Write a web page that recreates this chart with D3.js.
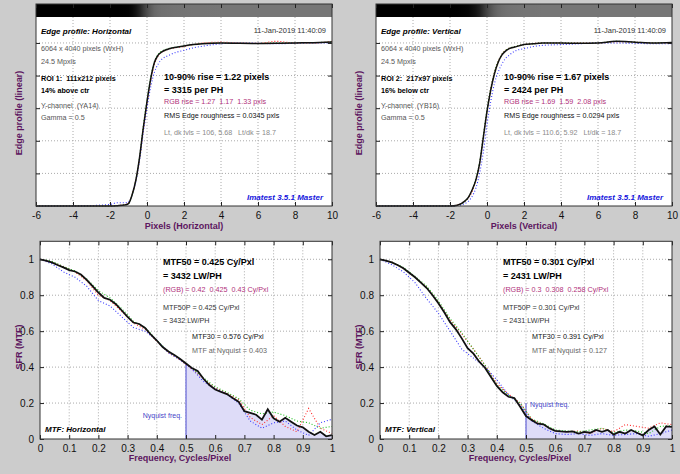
<!DOCTYPE html>
<html>
<head>
<meta charset="utf-8">
<script src="https://cdn.jsdelivr.net/npm/d3@7"></script>
<style>
body{margin:0;background:#cccccc;}
svg{display:block;font-family:"Liberation Sans",Arial,sans-serif;}
text{white-space:pre;}
</style>
</head>
<body>
<script>
// edge profile, pixels from edge
var edgeX = [-6,-4,-2,-1.6,-1.2,-1,-0.8,-0.6,-0.4,-0.2,0,0.2,0.4,0.6,0.8,1,1.2,1.5,2,2.5,3,4,5,6,7,8,9,10];
var edgeHorK = [0,0,0,0.002,0.006,0.015,0.07,0.16,0.3,0.48,0.64,0.78,0.88,0.925,0.945,0.957,0.965,0.972,0.982,0.99,0.995,1.0,0.998,0.997,0.998,1.0,1.002,1.006];
var edgeHorR = [0,0,0,0.003,0.008,0.018,0.07,0.16,0.29,0.47,0.63,0.77,0.87,0.92,0.945,0.955,0.963,0.97,0.978,0.99,1.0,1.005,1.0,0.998,1.01,1.0,1.0,1.01];
var edgeHorG = [0,0,0,0.002,0.006,0.014,0.068,0.16,0.3,0.49,0.65,0.79,0.885,0.93,0.95,0.96,0.967,0.973,0.982,0.99,0.997,1.0,0.998,0.997,1.0,1.0,1.002,1.006];
var edgeHorB = [0,0,0.01,0.02,0.02,0.025,0.07,0.15,0.28,0.45,0.6,0.73,0.82,0.87,0.9,0.915,0.925,0.94,0.955,0.97,0.98,0.995,1.0,0.998,0.995,0.998,1.0,1.0];
var edgeVerK = [0,0,0,0.005,0.03,0.055,0.1,0.16,0.26,0.42,0.58,0.71,0.81,0.88,0.925,0.95,0.965,0.975,0.99,0.995,1.0,1.0,0.998,1.0,1.01,1.005,1.0,1.003];
var edgeVerR = [0,0,0,0.006,0.03,0.05,0.09,0.16,0.26,0.42,0.58,0.72,0.82,0.885,0.93,0.955,0.968,0.978,0.99,0.997,1.0,1.0,1.0,1.0,1.008,1.005,1.0,1.0];
var edgeVerG = [0,0,0,0.004,0.028,0.055,0.1,0.17,0.27,0.43,0.59,0.72,0.82,0.885,0.93,0.955,0.968,0.978,0.99,0.995,1.0,1.0,0.998,1.0,1.01,1.005,1.0,1.003];
var edgeVerB = [0,0,0,0.003,0.015,0.03,0.06,0.11,0.2,0.33,0.5,0.64,0.75,0.82,0.87,0.905,0.925,0.95,0.965,0.978,0.985,0.99,0.995,1.0,1.0,0.998,0.995,0.995];

// MTF, black curve sampled every 0.02, colour channels every 0.04
var freqK = [0,0.02,0.04,0.06,0.08,0.1,0.12,0.14,0.16,0.18,0.2,0.22,0.24,0.26,0.28,0.3,0.32,0.34,0.36,0.38,0.4,0.42,0.44,0.46,0.48,0.5,0.52,0.54,0.56,0.58,0.6,0.62,0.64,0.66,0.68,0.7,0.72,0.74,0.76,0.78,0.8,0.82,0.84,0.86,0.88,0.9,0.92,0.94,0.96,0.98,1];
var freqC = [0,0.04,0.08,0.12,0.16,0.2,0.24,0.28,0.32,0.36,0.4,0.44,0.48,0.52,0.56,0.6,0.64,0.68,0.72,0.76,0.8,0.84,0.88,0.92,0.96,1];
var mtfHorK = [1,0.993,0.983,0.968,0.955,0.94,0.932,0.915,0.885,0.85,0.815,0.785,0.775,0.75,0.715,0.68,0.648,0.64,0.618,0.58,0.548,0.512,0.487,0.468,0.445,0.42,0.395,0.378,0.335,0.3,0.275,0.262,0.25,0.228,0.208,0.155,0.145,0.135,0.108,0.165,0.115,0.096,0.118,0.096,0.075,0.065,0.04,0.022,0.04,0.015,0.022];
var mtfHorR = [1,0.985,0.96,0.93,0.88,0.8,0.77,0.71,0.645,0.61,0.545,0.48,0.44,0.39,0.335,0.285,0.255,0.22,0.12,0.08,0.13,0.07,0.04,0.17,0.06,0.03];
var mtfHorG = [1,0.99,0.96,0.935,0.89,0.825,0.785,0.725,0.655,0.62,0.55,0.485,0.445,0.395,0.34,0.29,0.26,0.225,0.16,0.14,0.15,0.13,0.1,0.09,0.06,0.07];
var mtfHorB = [1,0.975,0.93,0.9,0.85,0.77,0.74,0.68,0.62,0.6,0.55,0.48,0.44,0.39,0.32,0.28,0.25,0.2,0.1,0.06,0.09,0.1,0.05,0.02,0.09,0.11];
var mtfVerK = [1,0.993,0.983,0.968,0.95,0.925,0.9,0.87,0.84,0.8,0.755,0.705,0.65,0.61,0.56,0.505,0.475,0.43,0.395,0.345,0.295,0.26,0.235,0.228,0.18,0.128,0.105,0.085,0.082,0.06,0.045,0.042,0.04,0.042,0.03,0.04,0.035,0.05,0.04,0.05,0.025,0.04,0.03,0.05,0.035,0.02,0.05,0.07,0.025,0.07,0.068];
var mtfVerR = [1,0.985,0.95,0.9,0.845,0.76,0.665,0.585,0.5,0.41,0.31,0.25,0.2,0.11,0.08,0.045,0.04,0.045,0.03,0.06,0.04,0.08,0.07,0.06,0.09,0.08];
var mtfVerG = [1,0.985,0.955,0.905,0.85,0.77,0.67,0.59,0.5,0.41,0.3,0.245,0.2,0.11,0.085,0.05,0.045,0.04,0.05,0.06,0.035,0.05,0.045,0.03,0.07,0.075];
var mtfVerB = [1,0.97,0.93,0.87,0.78,0.7,0.6,0.5,0.45,0.4,0.33,0.245,0.19,0.1,0.06,0.03,0.025,0.03,0.02,0.03,0.02,0.025,0.03,0.015,0.03,0.05];

var edgeTicksX = [-6,-4,-2,0,2,4,6,8,10];
var edgeTicksY = [0.2,0.4,0.6,0.8,1];
var mtfTicksX = [0,0.1,0.2,0.3,0.4,0.5,0.6,0.7,0.8,0.9,1];
var mtfTicksY = [0,0.2,0.4,0.6,0.8,1];

var labCol = "#5c1660";
var magenta = "#b0307a";

var svg = d3.select("body").append("svg")
    .attr("width", 680)
    .attr("height", 474);
svg.append("rect").attr("width", 680).attr("height", 474).attr("fill", "#cccccc");
var defs = svg.append("defs");

function txt(g, x, y, s, size, opt){
    opt = opt || {};
    return g.append("text")
        .attr("x", x).attr("y", y)
        .attr("xml:space", "preserve")
        .attr("font-size", size)
        .attr("font-weight", opt.bold ? "bold" : "normal")
        .attr("font-style", opt.italic ? "italic" : "normal")
        .attr("fill", opt.fill || "#000")
        .attr("text-anchor", opt.anchor || "start")
        .text(s);
}

function pairs(xs, ys){
    return xs.map(function(d, i){ return [d, ys[i]]; });
}

function axes(g, x, y, xt, yt, showY, fmt){
    var x0 = x.range()[0], x1 = x.range()[1];
    var y0 = y.range()[0], y1 = y.range()[1];
    g.append("g").attr("transform", "translate(0," + y0 + ")")
        .call(d3.axisBottom(x).tickValues(xt).tickSize(-4).tickPadding(6).tickFormat(fmt));
    g.append("g").attr("transform", "translate(0," + y1 + ")")
        .call(d3.axisTop(x).tickValues(xt).tickSize(-4).tickFormat(""));
    g.append("g").attr("transform", "translate(" + x0 + ",0)")
        .call(d3.axisLeft(y).tickValues(yt).tickSize(-4).tickPadding(6).tickFormat(showY ? fmt : ""));
    g.append("g").attr("transform", "translate(" + x1 + ",0)")
        .call(d3.axisRight(y).tickValues(yt).tickSize(-4).tickFormat(""));
    g.selectAll(".domain").remove();
    g.selectAll(".tick line").attr("stroke", "#222");
    g.selectAll(".tick text").attr("font-size", 10).attr("fill", "#111")
        .attr("font-family", "'Liberation Sans',Arial,sans-serif");
    g.append("rect").attr("x", x0).attr("y", y1).attr("width", x1 - x0).attr("height", y0 - y1)
        .attr("fill", "none").attr("stroke", "#333").attr("stroke-width", 1);
}

function grid(g, x, y, xt, yt, top){
    g.selectAll(null).data(xt.filter(function(d){ return d > x.domain()[0] && d < x.domain()[1]; }))
        .enter().append("line")
        .attr("x1", function(d){ return x(d); }).attr("x2", function(d){ return x(d); })
        .attr("y1", top).attr("y2", y.range()[0])
        .attr("stroke", "#aaa").attr("stroke-dasharray", "1,2");
    g.selectAll(null).data(yt.filter(function(d){ return d > 0; }))
        .enter().append("line")
        .attr("x1", x.range()[0]).attr("x2", x.range()[1])
        .attr("y1", function(d){ return y(d); }).attr("y2", function(d){ return y(d); })
        .attr("stroke", "#aaa").attr("stroke-dasharray", "1,2");
}

function curves(g, x, y, xsK, k, xsC, r, gg, b, curve, w){
    var line = d3.line().x(function(d){ return x(d[0]); }).y(function(d){ return y(d[1]); }).curve(curve);
    [[r, "#ff2a2a"], [gg, "#1fbf1f"], [b, "#3a3aff"]].forEach(function(s){
        g.append("path").datum(pairs(xsC, s[0])).attr("d", line)
            .attr("fill", "none").attr("stroke", s[1]).attr("stroke-width", 1.1)
            .attr("stroke-dasharray", "1,2");
    });
    g.append("path").datum(pairs(xsK, k)).attr("d", line)
        .attr("fill", "none").attr("stroke", "#111").attr("stroke-width", w);
}

function edgePanel(ox, id, p){
    var g = svg.append("g");
    var x = d3.scaleLinear().domain([-6, 10]).range([ox + 36, ox + 332]);
    var y = d3.scaleLinear().domain([0, 1.239]).range([206, 4]);
    g.append("rect").attr("x", x(-6)).attr("y", 4).attr("width", x(10) - x(-6)).attr("height", 202).attr("fill", "#fff");

    // edge image strip
    var grad = defs.append("linearGradient").attr("id", id)
        .attr("gradientUnits", "userSpaceOnUse")
        .attr("x1", x(-6)).attr("x2", x(10)).attr("y1", 0).attr("y2", 0);
    grad.selectAll("stop").data(pairs(edgeX, p.k)).enter().append("stop")
        .attr("offset", function(d){ return (d[0] + 6) / 16; })
        .attr("stop-color", function(d){ return d3.interpolateRgb("#000", "#767676")(Math.min(1, d[1])); });
    g.append("rect").attr("x", x(-6)).attr("y", 4).attr("width", x(10) - x(-6)).attr("height", 13)
        .attr("fill", "url(#" + id + ")");

    grid(g, x, y, edgeTicksX, edgeTicksY, 17);
    curves(g, x, y, edgeX, p.k, edgeX, p.r, p.g, p.b, d3.curveMonotoneX, 1.5);
    axes(g, x, y, edgeTicksX, edgeTicksY, false, function(d){ return String(d); });

    var lx = ox + 41;
    txt(g, lx, 33.5, p.title, 8, {bold: true, italic: true});
    txt(g, ox + 326, 33, "11-Jan-2019 11:40:09", 7.5, {fill: "#333", anchor: "end"});
    txt(g, lx, 50.5, "6064 x 4040 pixels (WxH)", 7.2, {fill: "#555"});
    txt(g, lx, 63.5, "24.5 Mpxls", 7.2, {fill: "#555"});
    txt(g, lx, 80.5, p.roi, 7.2, {bold: true});
    txt(g, lx, 93, p.pos, 7.2, {bold: true});
    txt(g, lx, 108, p.chan, 7.2, {fill: "#555"});
    txt(g, lx, 120, "Gamma = 0.5", 7.2, {fill: "#555"});

    var tx = ox + 164;
    txt(g, tx, 79.5, p.rise, 9, {bold: true});
    txt(g, tx, 92.5, p.ph, 9, {bold: true});
    txt(g, tx, 104, p.rgb, 7.2, {fill: magenta});
    txt(g, tx, 118, p.rms, 7.2, {fill: "#111"});
    txt(g, tx, 135, p.lvls, 7.2, {fill: "#8a8a8a"});
    txt(g, ox + 323, 200, "Imatest 3.5.1 Master", 8, {bold: true, italic: true, fill: "#1414dc", anchor: "end"});

    txt(g, ox + 184, 229, p.xlab, 9, {bold: true, fill: labCol, anchor: "middle"});
    txt(g, 0, 0, "Edge profile (linear)", 9, {bold: true, fill: labCol, anchor: "middle"})
        .attr("transform", "translate(" + (ox + 21.5) + ",113) rotate(-90)");
}

function mtfPanel(ox, p){
    var g = svg.append("g");
    var x = d3.scaleLinear().domain([0, 1]).range([ox + 40, ox + 332]);
    var y = d3.scaleLinear().domain([0, 1.1]).range([439, 241.3]);
    g.append("rect").attr("x", x(0)).attr("y", y(1.1)).attr("width", x(1) - x(0)).attr("height", y(0) - y(1.1)).attr("fill", "#fff");

    grid(g, x, y, mtfTicksX, mtfTicksY, y(1.1));

    // shaded region beyond Nyquist
    var tail = pairs(freqK, p.k).filter(function(d){ return d[0] >= 0.5; });
    g.append("path").datum(tail)
        .attr("d", d3.area().x(function(d){ return x(d[0]); }).y0(y(0)).y1(function(d){ return y(d[1]); }))
        .attr("fill", "#dedcf8");
    g.append("line").attr("x1", x(0.5)).attr("x2", x(0.5)).attr("y1", y(0)).attr("y2", y(p.nyqTop))
        .attr("stroke", "#4a4ad0").attr("stroke-width", 1);

    curves(g, x, y, freqK, p.k, freqC, p.r, p.g, p.b, d3.curveLinear, 1.8);
    axes(g, x, y, mtfTicksX, mtfTicksY, true, function(d){ return String(d); });

    if (p.nyqLeft) {
        txt(g, x(0.5) - 4, y(0.128) + 2.5, "Nyquist freq.", 7, {fill: "#4646c8", anchor: "end"});
    } else {
        txt(g, x(0.5) + 4, y(0.19) + 2.5, "Nyquist freq.", 7, {fill: "#4646c8"});
    }

    var tx = ox + 163;
    txt(g, tx, 264.5, p.m50, 9, {bold: true});
    txt(g, tx, 278.5, p.lw, 9, {bold: true});
    txt(g, tx, 292, p.rgb, 7.2, {fill: magenta});
    txt(g, tx, 309.5, p.m50p, 7.2, {fill: "#333"});
    txt(g, tx, 322.5, p.lwp, 7.2, {fill: "#333"});
    txt(g, ox + 192, 339, p.m30, 7.2, {fill: "#111"});
    txt(g, ox + 192, 353, p.nyq, 7.2, {fill: "#666"});
    txt(g, ox + 45, 431.5, p.title, 8, {bold: true, italic: true});

    txt(g, ox + 180, 461, "Frequency, Cycles/Pixel", 9, {bold: true, fill: labCol, anchor: "middle"});
    txt(g, 0, 0, "SFR (MTF)", 9, {bold: true, fill: labCol, anchor: "middle"})
        .attr("transform", "translate(" + (ox + 21.5) + ",347) rotate(-90)");
}

edgePanel(0, "gradH", {
    k: edgeHorK, r: edgeHorR, g: edgeHorG, b: edgeHorB,
    title: "Edge profile: Horizontal",
    roi: "ROI 1:  111x212 pixels", pos: "14% above ctr", chan: "Y-channel  (YA14)",
    rise: "10-90% rise = 1.22 pixels", ph: "= 3315 per PH",
    rgb: "RGB rise = 1.27  1.17  1.33 pxls",
    rms: "RMS Edge roughness = 0.0345 pxls",
    lvls: "Lt, dk lvls = 106, 5.68   Lt/dk = 18.7",
    xlab: "Pixels (Horizontal)"
});
edgePanel(340, "gradV", {
    k: edgeVerK, r: edgeVerR, g: edgeVerG, b: edgeVerB,
    title: "Edge profile: Vertical",
    roi: "ROI 2:  217x97 pixels", pos: "16% below ctr", chan: "Y-channel  (YB16)",
    rise: "10-90% rise = 1.67 pixels", ph: "= 2424 per PH",
    rgb: "RGB rise = 1.69  1.59  2.08 pxls",
    rms: "RMS Edge roughness = 0.0294 pxls",
    lvls: "Lt, dk lvls = 110.6, 5.92   Lt/dk = 18.7",
    xlab: "Pixels (Vertical)"
});
mtfPanel(0, {
    k: mtfHorK, r: mtfHorR, g: mtfHorG, b: mtfHorB,
    nyqTop: 0.415, nyqLeft: true,
    m50: "MTF50 = 0.425 Cy/Pxl", lw: "= 3432 LW/PH",
    rgb: "(RGB) = 0.42  0.425  0.43 Cy/Pxl",
    m50p: "MTF50P = 0.425 Cy/Pxl", lwp: "= 3432 LW/PH",
    m30: "MTF30 = 0.576 Cy/Pxl", nyq: "MTF at Nyquist = 0.403",
    title: "MTF: Horizontal"
});
mtfPanel(340, {
    k: mtfVerK, r: mtfVerR, g: mtfVerG, b: mtfVerB,
    nyqTop: 0.2, nyqLeft: false,
    m50: "MTF50 = 0.301 Cy/Pxl", lw: "= 2431 LW/PH",
    rgb: "(RGB) = 0.3  0.308  0.258 Cy/Pxl",
    m50p: "MTF50P = 0.301 Cy/Pxl", lwp: "= 2431 LW/PH",
    m30: "MTF30 = 0.391 Cy/Pxl", nyq: "MTF at Nyquist = 0.127",
    title: "MTF: Vertical"
});
</script>
</body>
</html>
